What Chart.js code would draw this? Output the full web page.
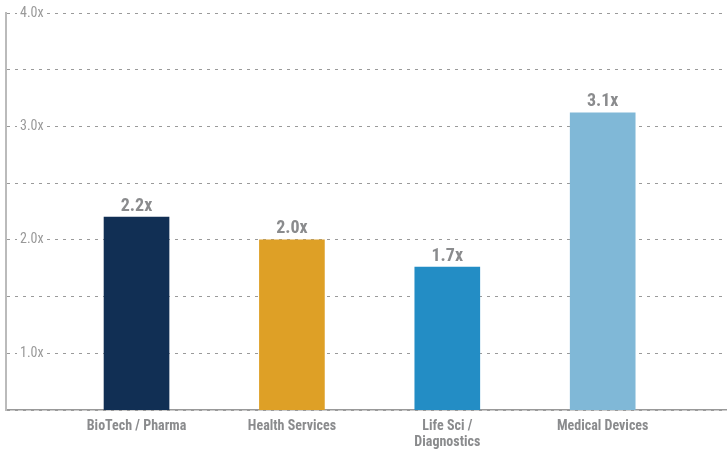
<!DOCTYPE html>
<html>
<head>
<meta charset="utf-8">
<script src="https://cdn.jsdelivr.net/npm/chart.js@4/dist/chart.umd.min.js"></script>
<style>
  html, body { margin: 0; padding: 0; background: #fff; }
  #wrap { width: 727px; height: 450px; }
</style>
</head>
<body>
<div id="wrap"><canvas id="multiplesChart"></canvas></div>
<script>
// Data
const categories = ['BioTech / Pharma', 'Health Services', ['Life Sci /', 'Diagnostics'], 'Medical Devices'];
const multiples = [2.2, 2.0, 1.76, 3.12];
const valueLabels = ['2.2x', '2.0x', '1.7x', '3.1x'];
const barColors = ['#112f54', '#dea026', '#238dc5', '#80b8d7'];
const yTicks = [1.0, 2.0, 3.0, 4.0];

const textGray = '#8a8b8d';
const font = "'Liberation Sans Narrow', 'Roboto Condensed', 'Roboto', sans-serif";

// Value labels above each bar
const barLabels = {
    id: 'barLabels',
    afterDatasetsDraw(chart) {
        const ctx = chart.ctx;
        const meta = chart.getDatasetMeta(0);
        ctx.save();
        ctx.fillStyle = textGray;
        ctx.font = 'bold 18px ' + font;
        ctx.textAlign = 'center';
        ctx.textBaseline = 'bottom';
        meta.data.forEach((bar, i) => {
            ctx.fillText(valueLabels[i], bar.x, bar.y - 2);
        });
        ctx.restore();
    }
};

const config = {
    type: 'bar',
    data: {
        datasets: [{
            data: multiples.map((v, i) => ({ x: i, y: v })),
            backgroundColor: barColors,
            barThickness: 65
        }]
    },
    options: {
        responsive: false,
        animation: false,
        layout: { padding: { top: 13, left: 6, right: 0, bottom: 0 } },
        plugins: {
            legend: { display: false },
            tooltip: { enabled: false }
        },
        scales: {
            x: {
                type: 'linear',
                bounds: 'data',
                offset: false,
                min: -0.84,
                max: 3.8,
                afterBuildTicks: (scale) => {
                    scale.ticks = categories.map((c, i) => ({ value: i }));
                },
                afterFit: (scale) => {
                    scale.height = 40;
                    scale.paddingLeft = 0;
                    scale.paddingRight = 0;
                },
                grid: { display: false, drawTicks: false },
                border: { color: '#999', width: 1.5 },
                ticks: {
                    autoSkip: false,
                    maxRotation: 0,
                    padding: 9,
                    color: textGray,
                    font: { family: font, size: 14, weight: 'bold', lineHeight: 1.1 },
                    callback: (v) => categories[v]
                }
            },
            y: {
                min: 0.5,
                max: 4,
                afterFit: (scale) => {
                    scale.width = 0;
                    scale.paddingTop = 0;
                    scale.paddingBottom = 0;
                },
                grid: { color: '#9a9a9a', lineWidth: 1, drawTicks: false },
                border: { color: '#bbb', width: 2, dash: [3, 5] },
                ticks: {
                    stepSize: 0.5,
                    mirror: true,
                    padding: 14,
                    color: '#999',
                    font: { family: font, size: 14 },
                    showLabelBackdrop: true,
                    backdropColor: (ctx) => yTicks.includes(ctx.tick.value) ? '#fff' : 'rgba(0,0,0,0)',
                    backdropPadding: { left: 3, right: 3, top: 0, bottom: 0 },
                    callback: (v) => yTicks.includes(v) ? v.toFixed(1) + 'x' : ''
                }
            }
        }
    },
    plugins: [barLabels]
};

window.onload = () => {
    const canvas = document.getElementById('multiplesChart');
    canvas.width = 727;
    canvas.height = 450;
    new Chart(canvas.getContext('2d'), config);
};
</script>
</body>
</html>
